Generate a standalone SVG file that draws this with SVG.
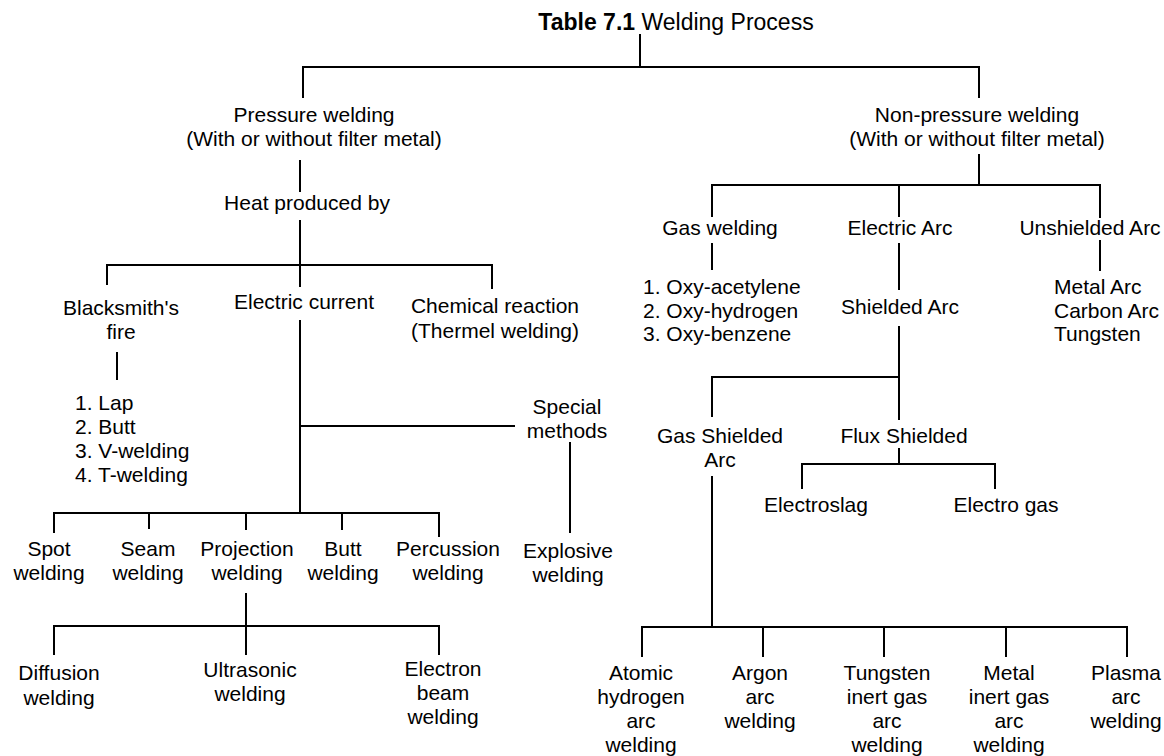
<svg xmlns="http://www.w3.org/2000/svg" width="1164" height="756" viewBox="0 0 1164 756">
<style>
text{font-family:"Liberation Sans",Arial,sans-serif;font-size:21px;fill:#000;text-anchor:middle}
.s{text-anchor:start}
.b{font-weight:bold}
#title text{font-size:23px}
#connectors path{stroke:#000;stroke-width:2;fill:none}
</style>
<rect width="1164" height="756" fill="#fff"/>
<g id="connectors">
<path d="M640 34V67M303 98V67H979V98"/>
<path d="M300 160V192M300 220V265M107 285V265H492V289M300 265V287"/>
<path d="M117 352V380M300 320V513M300 426H515M570 442V533"/>
<path d="M54 533V513H439V537M149 513V529M246 513V530M342 513V530"/>
<path d="M246 593V626M54 655V626H439V655M246 626V655"/>
<path d="M979 154V185M712 217V185H1100V218M899 185V217"/>
<path d="M712 243V270M899 243V290M1100 240V271M899 326V377"/>
<path d="M712 417V377H899V420M899 448V464M802 489V464H995V489"/>
<path d="M712 476V627M642 657V627H1127V657M763 627V657M884 627V657M1006 627V657"/>
</g>
<g id="title"><text x="676" y="30"><tspan class="b">Table 7.1</tspan> Welding Process</text></g>
<g id="pressure"><text x="314" y="122">Pressure welding</text><text x="314" y="146">(With or without filter metal)</text></g>
<g id="heat"><text x="307" y="210">Heat produced by</text></g>
<g id="blacksmith"><text x="121" y="315">Blacksmith's</text><text x="121" y="339">fire</text></g>
<g id="electric-current"><text x="304" y="309">Electric current</text></g>
<g id="chemical"><text x="495" y="313">Chemical reaction</text><text x="495" y="338">(Thermel welding)</text></g>
<g id="bs-list"><text class="s" x="75" y="410">1. Lap</text><text class="s" x="75" y="434">2. Butt</text><text class="s" x="75" y="458">3. V-welding</text><text class="s" x="75" y="482">4. T-welding</text></g>
<g id="special"><text x="567" y="414">Special</text><text x="567" y="438">methods</text></g>
<g id="spot"><text x="49" y="556">Spot</text><text x="49" y="580">welding</text></g>
<g id="seam"><text x="148" y="556">Seam</text><text x="148" y="580">welding</text></g>
<g id="projection"><text x="247" y="556">Projection</text><text x="247" y="580">welding</text></g>
<g id="butt"><text x="343" y="556">Butt</text><text x="343" y="580">welding</text></g>
<g id="percussion"><text x="448" y="556">Percussion</text><text x="448" y="580">welding</text></g>
<g id="explosive"><text x="568" y="558">Explosive</text><text x="568" y="582">welding</text></g>
<g id="diffusion"><text x="59" y="680">Diffusion</text><text x="59" y="705">welding</text></g>
<g id="ultrasonic"><text x="250" y="677">Ultrasonic</text><text x="250" y="701">welding</text></g>
<g id="electron"><text x="443" y="676">Electron</text><text x="443" y="700">beam</text><text x="443" y="724">welding</text></g>
<g id="nonpressure"><text x="977" y="122">Non-pressure welding</text><text x="977" y="146">(With or without filter metal)</text></g>
<g id="gas-welding"><text x="720" y="235">Gas welding</text></g>
<g id="electric-arc"><text x="900" y="235">Electric Arc</text></g>
<g id="unshielded"><text x="1090" y="235">Unshielded Arc</text></g>
<g id="gas-list"><text class="s" x="643" y="294">1. Oxy-acetylene</text><text class="s" x="643" y="318">2. Oxy-hydrogen</text><text class="s" x="643" y="341">3. Oxy-benzene</text></g>
<g id="shielded"><text x="900" y="314">Shielded Arc</text></g>
<g id="unsh-list"><text class="s" x="1054" y="294">Metal Arc</text><text class="s" x="1054" y="318">Carbon Arc</text><text class="s" x="1054" y="341">Tungsten</text></g>
<g id="gas-shielded"><text x="720" y="443">Gas Shielded</text><text x="720" y="467">Arc</text></g>
<g id="flux-shielded"><text x="904" y="443">Flux Shielded</text></g>
<g id="electroslag"><text x="816" y="512">Electroslag</text></g>
<g id="electrogas"><text x="1006" y="512">Electro gas</text></g>
<g id="atomic"><text x="641" y="680">Atomic</text><text x="641" y="704">hydrogen</text><text x="641" y="728">arc</text><text x="641" y="752">welding</text></g>
<g id="argon"><text x="760" y="680">Argon</text><text x="760" y="704">arc</text><text x="760" y="728">welding</text></g>
<g id="tig"><text x="887" y="680">Tungsten</text><text x="887" y="704">inert gas</text><text x="887" y="728">arc</text><text x="887" y="752">welding</text></g>
<g id="mig"><text x="1009" y="680">Metal</text><text x="1009" y="704">inert gas</text><text x="1009" y="728">arc</text><text x="1009" y="752">welding</text></g>
<g id="plasma"><text x="1126" y="680">Plasma</text><text x="1126" y="704">arc</text><text x="1126" y="728">welding</text></g>
</svg>
